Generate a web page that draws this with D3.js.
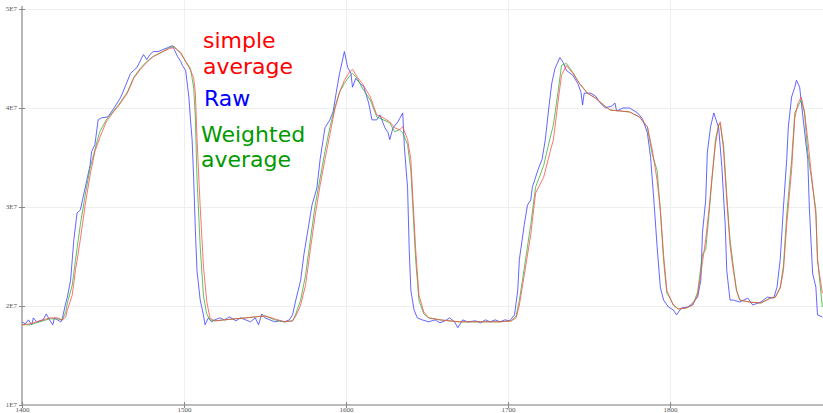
<!DOCTYPE html>
<html><head><meta charset="utf-8">
<script src="https://cdn.jsdelivr.net/npm/d3@7"></script>
<style>html,body{margin:0;padding:0;background:#fff;}svg{display:block;}</style>
</head><body>
<svg id="chart" width="823" height="413"></svg>
<script>
// values in millions (1E7 = 10)
const xTicks = [1400, 1500, 1600, 1700, 1800];
const yTicks = [10, 20, 30, 40, 50];
const yTickLabels = ["1E7", "2E7", "3E7", "4E7", "5E7"];

const rawT = [1400,1402,1404,1406,1407,1409,1411,1413,1415,1417,1419,1420,1422,1424,1425,1427,1428,1430,1432,1434,1436,1438,1440,1442,1443,1445,1447,1449,1453,1456,1458,1461,1464,1467,1469,1471,1474,1475,1477,1479,1481,1484,1487,1490,1493,1494,1496,1498,1499,1501,1503,1504,1505,1506,1507,1508,1510,1512,1513,1515,1517,1519,1522,1525,1528,1532,1535,1538,1541,1544,1546,1548,1550,1553,1556,1559,1562,1565,1567,1569,1572,1574,1577,1579,1582,1584,1587,1590,1592,1594,1596,1599,1601,1603,1604,1606,1607,1611,1614,1616,1619,1621,1624,1626,1627,1629,1632,1635,1636,1638,1639,1640,1642,1644,1647,1651,1655,1658,1661,1664,1667,1669,1672,1675,1680,1683,1686,1689,1692,1695,1698,1701,1704,1706,1707,1710,1712,1714,1715,1719,1721,1723,1725,1727,1729,1732,1734,1736,1740,1743,1745,1746,1747,1751,1754,1757,1760,1764,1766,1767,1771,1775,1780,1783,1786,1788,1790,1792,1794,1796,1799,1802,1804,1807,1811,1814,1817,1819,1820,1822,1823,1825,1827,1828,1830,1832,1834,1835,1837,1839,1843,1848,1851,1856,1860,1864,1866,1868,1870,1872,1873,1875,1877,1878,1880,1882,1885,1886,1888,1890,1891,1894];
const rawV = [18.4,18.2,18.6,18.1,18.8,18.4,18.5,18.6,19.2,18.6,18.1,18.8,18.6,18.4,18.8,20.3,20.9,22.6,26.7,29.4,29.7,31.2,32.7,34.2,35.6,36.3,38.8,39.0,39.1,39.8,40.3,41.1,42.3,43.5,43.8,44.1,45.1,45.4,44.9,45.4,45.7,45.7,45.9,46.1,46.3,45.9,45.2,44.7,44.3,43.8,41.1,38.8,36.8,32.7,27.7,23.6,20.6,19.1,18.1,18.8,18.4,18.6,18.8,18.6,18.9,18.5,18.8,18.6,18.4,18.8,18.1,19.2,18.8,18.6,18.4,18.5,18.4,18.6,19.1,20.6,22.6,25.2,28.2,30.2,31.9,34.8,38.0,38.8,39.6,41.6,43.5,45.7,44.1,43.5,42.1,43.0,42.8,42.1,40.5,38.8,38.8,39.3,38.0,37.5,36.8,38.0,38.6,39.5,36.1,31.9,25.7,21.6,19.6,18.8,18.6,18.4,18.6,18.3,18.5,18.8,18.4,17.8,18.6,18.4,18.5,18.3,18.6,18.4,18.6,18.4,18.6,18.5,19.1,21.6,24.7,28.2,30.2,30.7,32.0,34.0,34.8,36.8,39.8,42.5,44.0,45.1,44.6,43.8,43.3,42.5,41.6,40.3,41.5,41.5,41.2,40.5,40.0,40.2,40.5,39.7,40.0,40.0,39.5,38.9,37.5,35.0,30.7,26.0,21.9,20.6,19.9,19.6,19.1,19.8,19.9,20.3,20.9,22.6,27.4,30.7,35.5,38.1,39.5,39.0,38.0,34.0,28.3,23.6,20.6,20.6,20.4,20.8,20.1,20.4,20.9,20.8,21.9,24.7,30.0,34.8,38.1,41.1,42.1,42.8,42.1,39.1,34.8,29.8,23.3,21.9,19.1,18.9];

const avgT = [1400,1405,1411,1417,1422,1425,1427,1428,1431,1433,1436,1439,1442,1445,1448,1452,1456,1460,1465,1469,1473,1477,1481,1487,1491,1494,1498,1501,1504,1506,1507,1508,1510,1512,1514,1516,1519,1525,1531,1538,1544,1550,1556,1562,1567,1569,1572,1575,1578,1581,1584,1587,1590,1593,1596,1599,1602,1604,1607,1610,1615,1619,1623,1627,1630,1633,1635,1638,1640,1641,1643,1645,1648,1651,1658,1670,1683,1695,1702,1705,1707,1710,1714,1717,1722,1726,1728,1731,1733,1736,1740,1744,1749,1754,1759,1763,1769,1775,1781,1786,1789,1792,1794,1796,1798,1800,1802,1805,1810,1814,1817,1820,1822,1824,1826,1828,1830,1831,1833,1835,1837,1839,1841,1843,1849,1856,1862,1865,1868,1870,1872,1875,1877,1879,1881,1883,1885,1887,1890,1891,1894];
const simpleV = [18.1,18.2,18.5,18.8,18.8,18.6,18.9,19.6,21.1,23.6,26.7,30.2,33.2,35.6,37.0,38.6,39.5,40.3,41.5,43.0,43.9,44.6,45.2,45.7,46.0,46.1,45.6,44.7,43.8,43.0,41.5,37.0,30.0,24.0,20.5,18.8,18.5,18.6,18.7,18.8,18.9,19.0,18.7,18.4,18.5,19.0,20.1,22.1,25.7,29.2,32.2,34.8,37.3,39.8,41.6,42.8,43.6,43.9,43.1,42.5,41.1,39.3,39.0,38.6,38.0,37.8,38.1,36.8,34.8,31.7,25.7,21.1,19.4,18.8,18.6,18.4,18.4,18.4,18.5,18.8,20.1,23.1,27.2,31.4,33.0,35.6,36.8,40.8,43.3,44.3,43.5,42.5,41.5,41.0,40.3,39.8,39.7,39.6,39.1,38.1,35.8,32.7,29.7,25.2,21.6,20.8,20.1,19.7,19.8,20.1,21.1,24.4,26.7,29.7,33.2,36.3,38.3,38.6,35.8,30.7,26.2,23.6,21.6,20.6,20.4,20.3,20.8,20.9,21.8,23.6,28.2,33.7,39.0,40.5,41.1,39.6,36.8,33.7,29.2,24.6,21.3];
const weightedV = [18.1,18.1,18.4,18.7,18.7,18.6,19.4,20.3,22.1,24.6,28.2,31.2,33.9,35.8,37.6,38.8,39.6,40.4,41.6,43.1,44.0,44.7,45.2,45.7,46.1,46.2,45.5,44.7,44.0,42.0,39.0,33.0,26.0,21.0,19.2,18.6,18.5,18.6,18.7,18.8,18.9,19.0,18.6,18.4,18.5,19.2,20.6,23.1,26.7,30.2,32.9,35.6,38.0,40.0,41.6,42.5,43.2,43.5,43.0,42.0,40.8,39.1,38.8,38.5,37.6,37.8,37.5,36.3,33.7,30.7,24.6,20.6,19.2,18.8,18.6,18.4,18.4,18.4,18.5,19.0,20.6,23.8,28.2,32.0,34.2,37.0,38.3,41.8,44.3,44.5,43.6,42.5,41.5,41.0,40.3,39.8,39.7,39.6,39.1,38.1,35.3,33.7,29.7,24.6,21.3,20.8,20.1,19.7,19.8,20.1,21.4,25.2,25.7,29.2,33.0,36.8,38.3,38.3,36.3,31.2,26.7,24.1,21.6,20.6,20.4,20.3,20.8,20.9,21.9,24.1,29.2,34.7,39.5,40.2,40.8,39.5,35.5,33.2,29.7,24.8,19.9];

const labels = [
  {lines: ["simple", "average"], color: "#ff0000"},
  {lines: ["Raw"], color: "#0000ff"},
  {lines: ["Weighted", "average"], color: "#009900"}
];

const svg = d3.select("#chart");
const W = 823, H = 413;
const x = d3.scaleLinear().domain([1400, 1894.4]).range([22, 823]);
const y = d3.scaleLinear().domain([10, 50]).range([405, 9]);

// grid
const grid = svg.append("g");
grid.selectAll("line.h").data(yTicks.slice(1)).join("line")
  .attr("x1", 22).attr("x2", W).attr("y1", d => y(d) + 0.5).attr("y2", d => y(d) + 0.5)
  .attr("stroke", "#efefef").attr("stroke-width", 1);
grid.selectAll("line.v").data(xTicks.slice(1)).join("line")
  .attr("x1", d => Math.round(x(d)) + 0.5).attr("x2", d => Math.round(x(d)) + 0.5).attr("y1", 0).attr("y2", 405)
  .attr("stroke", "#efefef").attr("stroke-width", 1);

// lines
const series = [
  {t: rawT, v: rawV, color: "#3a3aff"},
  {t: avgT, v: weightedV, color: "#33b033"},
  {t: avgT, v: simpleV, color: "#ff4a4a"}
];
const line = d3.line().x(d => x(d[0])).y(d => y(d[1]));
series.forEach(s => {
  svg.append("path")
    .datum(s.t.map((t, i) => [t, s.v[i]]))
    .attr("d", line).attr("fill", "none")
    .attr("stroke", s.color).attr("stroke-width", 1).attr("stroke-opacity", 0.78);
});

// axes
const yAxis = svg.append("g").attr("transform", "translate(22,0)")
  .call(d3.axisLeft(y).tickValues(yTicks).tickSize(3).tickFormat((d, i) => yTickLabels[i]));
yAxis.select(".domain").attr("stroke", "#888").attr("stroke-width", 1.2).attr("d", `M0,${y(50)-3}V405`);
yAxis.selectAll(".tick line").attr("x1", -3).attr("x2", 3).attr("stroke", "#888");
yAxis.selectAll(".tick text").attr("x", -5).attr("dy", "0.22em").attr("font-family", "Liberation Serif, serif").attr("font-size", 7).attr("fill", "#555");

const xAxis = svg.append("g").attr("transform", "translate(0,405)")
  .call(d3.axisBottom(x).tickValues(xTicks).tickSize(3).tickFormat(d3.format("d")));
xAxis.select(".domain").attr("stroke", "#bbb").attr("stroke-width", 2.2).attr("d", `M22,0H${W}`);
xAxis.selectAll(".tick line").attr("y1", -3).attr("y2", 3).attr("stroke", "#888");
xAxis.selectAll(".tick text").attr("y", 2.5).attr("font-family", "Liberation Serif, serif").attr("font-size", 7).attr("fill", "#555");

// text labels
const labelPos = [{x: 203, y: [48, 74]}, {x: 204, y: [106]}, {x: 201, y: [142, 167]}];
labels.forEach((l, i) => {
  l.lines.forEach((txt, j) => {
    svg.append("text").attr("x", labelPos[i].x).attr("y", labelPos[i].y[j])
      .attr("font-family", "DejaVu Sans, sans-serif").attr("font-size", 22)
      .attr("fill", l.color).text(txt);
  });
});
</script>
</body></html>
